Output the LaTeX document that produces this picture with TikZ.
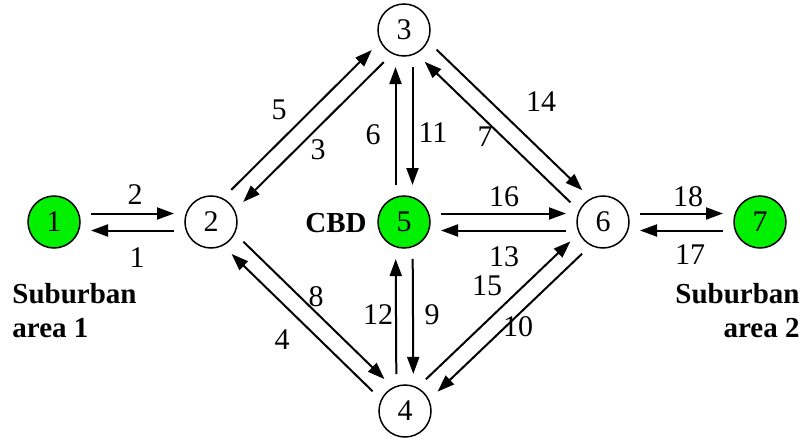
\documentclass[tikz,border=0pt]{standalone}
\usepackage{fontspec}
\setmainfont{Liberation Serif}
\usetikzlibrary{arrows.meta,calc}
\definecolor{zonegreen}{RGB}{0,240,0}
\tikzset{
  zone/.style={circle,draw,line width=0.75pt,minimum size=26pt,inner sep=0pt,font=\fontsize{15pt}{17pt}\selectfont},
  czone/.style={zone,fill=zonegreen},
  arr/.style={line width=1pt,-{Triangle[length=8.5pt,width=6pt]}},
  lab/.style={inner sep=0pt,font=\fontsize{15pt}{17pt}\selectfont},
  btxt/.style={inner sep=0pt,font=\fontsize{14.5pt}{17pt}\selectfont\bfseries}
}
\newcommand\dirarrow[2]{\draw[arr] ($(#1)!18.5pt!(#2)!4.25pt!90:(#2)$) -- ($(#2)!18.5pt!(#1)!4.25pt!-90:(#1)$);}
\begin{document}
\begin{tikzpicture}[x=0.5pt,y=-0.5pt]
\useasboundingbox (0,0) rectangle (804,439);
\node[czone] (n1) at (54,222) {1};
\node[zone]  (n2) at (211,222) {2};
\node[zone]  (n3) at (404,30) {3};
\node[czone] (n5) at (404,222) {5};
\node[zone]  (n6) at (603,222) {6};
\node[czone] (n7) at (760,222) {7};
\node[zone]  (n4) at (405,411) {4};
% links
\dirarrow{n1}{n2}
\dirarrow{n2}{n1}
\dirarrow{n5}{n6}
\dirarrow{n6}{n5}
\dirarrow{n6}{n7}
\dirarrow{n7}{n6}
\dirarrow{n2}{n3}
\dirarrow{n3}{n2}
\dirarrow{n5}{n3}
\dirarrow{n3}{n5}
\dirarrow{n3}{n6}
\dirarrow{n6}{n3}
\dirarrow{n2}{n4}
\dirarrow{n4}{n2}
\dirarrow{n4}{n5}
\dirarrow{n5}{n4}
\dirarrow{n4}{n6}
\dirarrow{n6}{n4}
% link labels
\node[lab] (l2) at (135,195) {2};
\node[lab] (l1) at (137,258) {1};
\node[lab] (l16) at (504,197) {16};
\node[lab] (l13) at (504,257) {13};
\node[lab] (l18) at (688,197) {18};
\node[lab] (l17) at (690,255) {17};
\node[lab] (l5) at (279,110) {5};
\node[lab] (l3) at (318,150) {3};
\node[lab] (l6) at (373,135) {6};
\node[lab] (l11) at (433,133) {11};
\node[lab] (l7) at (485,137) {7};
\node[lab] (l14) at (541,102) {14};
\node[lab] (l12) at (378,315) {12};
\node[lab] (l9) at (432,315) {9};
\node[lab] (l15) at (487,286) {15};
\node[lab] (l10) at (518,327) {10};
\node[lab] (l8) at (316,297) {8};
\node[lab] (l4) at (282,340) {4};
% area texts
\node[btxt,anchor=base west] (s1a) at (12,303) {Suburban};
\node[btxt,anchor=base west] (s1b) at (12,337) {area 1};
\node[btxt,anchor=base east] (s2a) at (800,303) {Suburban};
\node[btxt,anchor=base east] (s2b) at (800,337) {area 2};
\node[btxt,anchor=base east] (cbd) at (367,232) {CBD};
\end{tikzpicture}
\end{document}
